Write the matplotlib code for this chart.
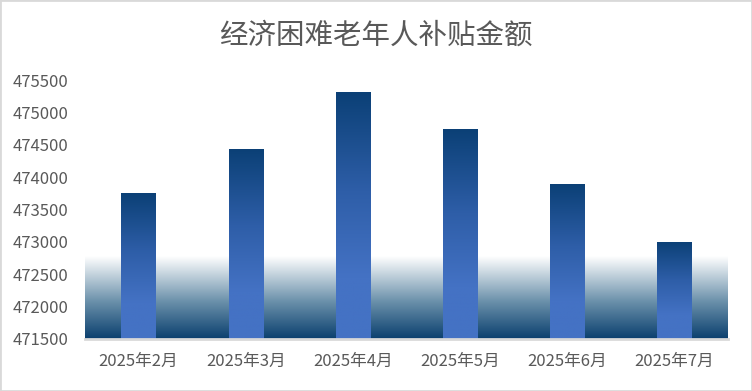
import matplotlib
matplotlib.use("Agg")
import matplotlib.pyplot as plt
import numpy as np
from matplotlib.colors import LinearSegmentedColormap
from matplotlib.patches import Rectangle

plt.rcParams['font.family'] = ['Noto Sans CJK SC', 'DejaVu Sans']

months = ["2025年2月", "2025年3月", "2025年4月", "2025年5月", "2025年6月", "2025年7月"]
amounts = [473755, 474435, 475315, 474745, 473895, 473000]
y_ticks = [471500, 472000, 472500, 473000, 473500, 474000, 474500, 475000, 475500]
band_top = 472770  # value where background gradient fades to white

text_color = "#595959"
bar_cmap = LinearSegmentedColormap.from_list(
    "bar", [(0.0, "#4472C4"), (0.25, "#4472C4"), (0.6, "#2E5EA8"), (1.0, "#0B4076")])
band_cmap = LinearSegmentedColormap.from_list(
    "band", [(0.0, "#0A3F6E"), (0.45, "#6A90AA"), (1.0, "#FFFFFF")])

fig = plt.figure(figsize=(7.52, 3.91), dpi=100)
ax = fig.add_axes([0.113, 0.133, 0.855, 0.662])

x = np.arange(len(months))
ymin, ymax = y_ticks[0], y_ticks[-1]
ax.set_xlim(-0.5, len(months) - 0.5)
ax.set_ylim(ymin, ymax)

grad = np.linspace(0, 1, 256).reshape(-1, 1)
ax.imshow(grad, cmap=band_cmap, origin="lower", aspect="auto",
          extent=[-0.5, len(months) - 0.5, ymin, band_top], zorder=1)

bars = ax.bar(x, [a - ymin for a in amounts], bottom=ymin, width=0.32,
              color="none", edgecolor="none", zorder=2)
for b in bars:
    x0, w = b.get_x(), b.get_width()
    top = b.get_y() + b.get_height()
    im = ax.imshow(grad, cmap=bar_cmap, origin="lower", aspect="auto",
                   extent=[x0, x0 + w, ymin, top], zorder=3)
    im.set_clip_path(b)

ax.set_xlim(-0.5, len(months) - 0.5)
ax.set_ylim(ymin, ymax)
ax.set_xticks(x)
ax.set_xticklabels(months)
ax.set_yticks(y_ticks)
ax.set_yticklabels([str(v) for v in y_ticks])
ax.tick_params(axis="both", length=0, labelsize=12, colors=text_color)
ax.tick_params(axis="x", pad=10)
ax.tick_params(axis="y", pad=12)
for s in ["top", "right", "left"]:
    ax.spines[s].set_visible(False)
ax.spines["bottom"].set_color("#D9D9D9")
ax.spines["bottom"].set_linewidth(2)
ax.spines["bottom"].set_zorder(4)

fig.text(0.5, 0.91, "经济困难老年人补贴金额", ha="center", va="center",
         fontsize=20.5, color=text_color)
fig.patches.append(Rectangle((0, 0), 1, 1, transform=fig.transFigure, fill=False,
                             edgecolor="#D9D9D9", linewidth=2))

fig.savefig("out.png", dpi=100)
